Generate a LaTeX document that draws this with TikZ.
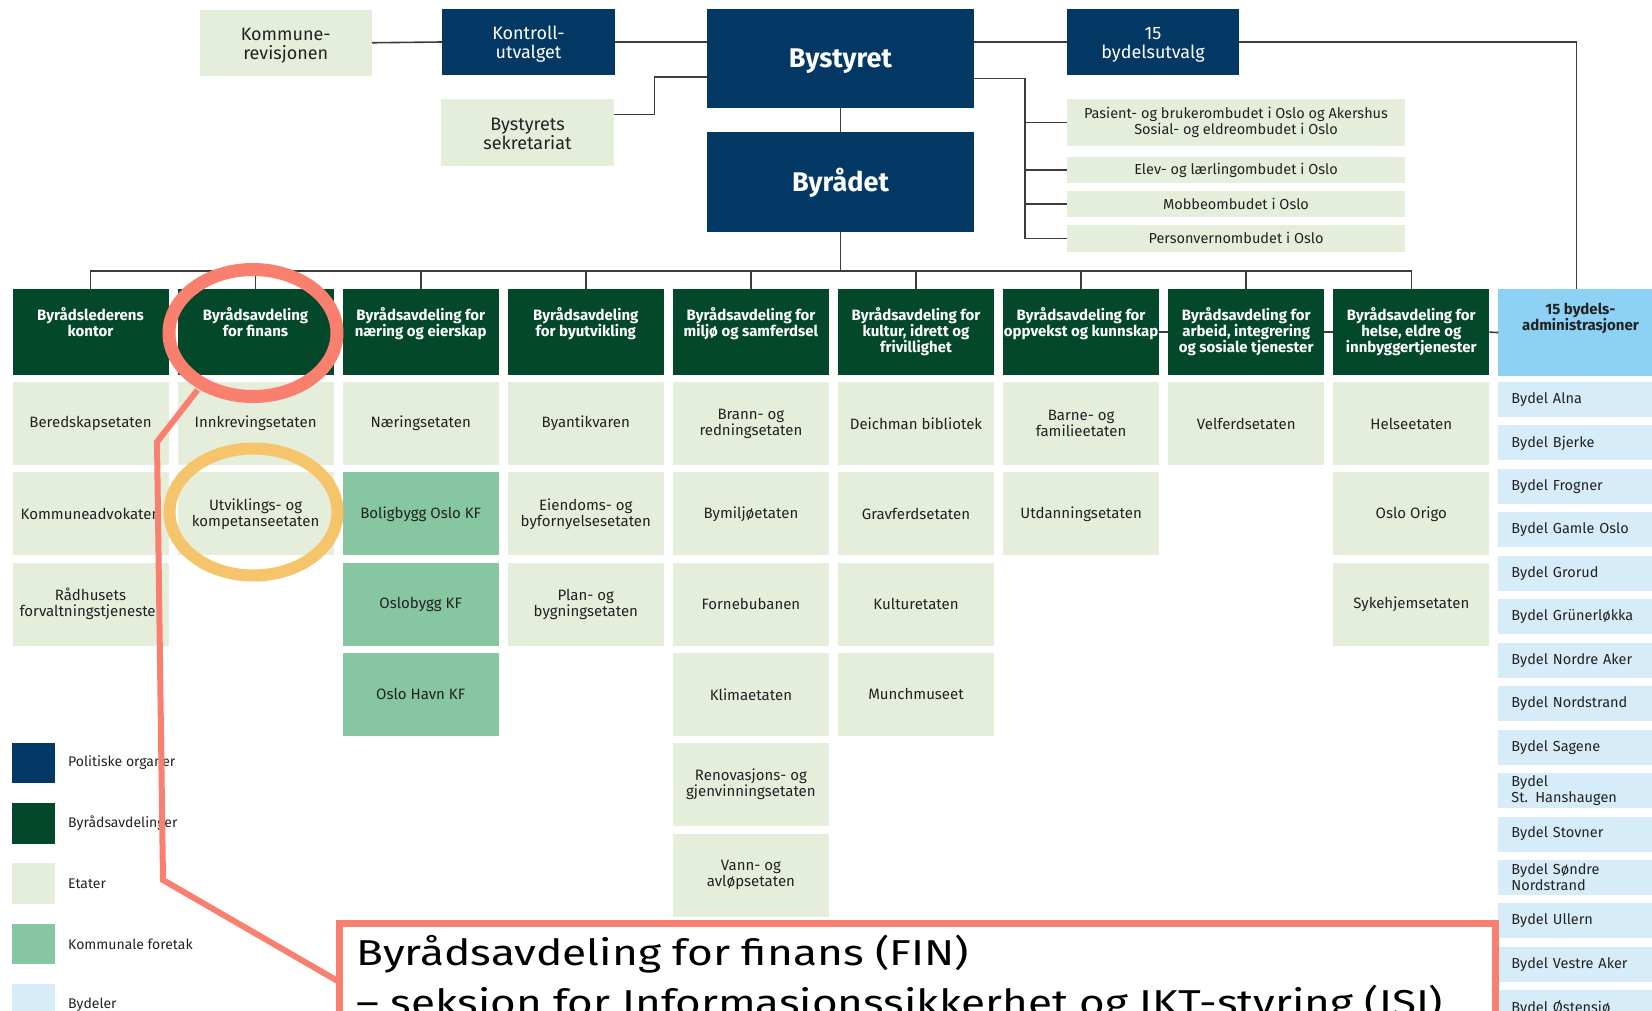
\documentclass[tikz,border=0pt]{standalone}
\usepackage{fontspec}
\setmainfont{Fira Sans}
\usepackage{graphicx}
\definecolor{polblue}{HTML}{023863}
\definecolor{hdrgreen}{HTML}{03482B}
\definecolor{etagreen}{HTML}{E4EEDB}
\definecolor{kfgreen}{HTML}{86C6A0}
\definecolor{bydblue}{HTML}{D6ECF9}
\definecolor{bydhdr}{HTML}{8DD2F5}
\definecolor{redmark}{HTML}{F9806F}
\definecolor{orangemark}{HTML}{F6C46B}
\definecolor{txt}{HTML}{222222}
\definecolor{conncol}{HTML}{3C3C3C}
\tikzset{
  box/.style={anchor=north west, inner sep=0pt, outer sep=0pt, align=center, text=txt},
  topfont/.style={font=\fontsize{18}{19}\selectfont},
  pol/.style={box, fill=polblue},
  light/.style={box, fill=etagreen},
  toptxt/.style={inner sep=0pt, align=center, text=txt, topfont},
  poltxt/.style={toptxt, text=white},
  bigtxt/.style={inner sep=0pt, text=white, font=\bfseries\fontsize{27}{30}\selectfont, text height=18.6pt, text depth=0pt},
  omb/.style={box, fill=etagreen, minimum width=338pt, font=\fontsize{14.5}{16.5}\selectfont},
  eta/.style={box, fill=etagreen, minimum width=156pt, minimum height=83pt, font=\fontsize{15}{16}\selectfont},
  kf/.style={eta, fill=kfgreen},
  hdrbox/.style={box, fill=hdrgreen, minimum width=156pt, minimum height=85.7pt},
  hdrtxt/.style={anchor=north, inner sep=0pt, align=center, text=white, font=\bfseries\fontsize{15}{16}\selectfont},
  bydel/.style={box, fill=bydblue, minimum height=35pt, text width=130pt, inner xsep=13pt, align=left, font=\fontsize{14.5}{16}\selectfont},
  conn/.style={draw=conncol, line width=1.6pt},
  lgbox/.style={anchor=north west, inner sep=0pt, outer sep=0pt, minimum width=42.5pt, minimum height=40.6pt},
  lgtxt/.style={anchor=west, inner sep=0pt, text=txt, font=\fontsize{14}{16}\selectfont},
  ring/.style={line width=13pt},
  captxt/.style={anchor=base west, inner sep=0pt, text=black, font=\fontsize{36}{50}\selectfont},
}
\newcommand\mkhdr[3]{\node[hdrbox] (h#1) at (#2,289.3) {};
  \node[hdrtxt] (ht#1) at ([yshift=-17.5pt]h#1.north) {#3};}
\begin{document}
\begin{tikzpicture}[x=1pt,y=-1pt]
\useasboundingbox (0,0) rectangle (1652,1010);
\clip (0,0) rectangle (1652,1010);
\fill[white] (0,0) rectangle (1652,1010);

% top political level
\node[light, minimum width=172.5pt, minimum height=65.5pt] (kr) at (199.5,10) {};
\node[toptxt] (krt) at ([yshift=-3pt]kr.center) {Kommune-\\revisjonen};
\node[pol, minimum width=173pt, minimum height=66pt] (ku) at (442,9) {};
\node[poltxt] (kut) at ([yshift=-2.5pt]ku.center) {Kontroll-\\utvalget};
\node[pol, minimum width=267pt, minimum height=99pt] (bst) at (707,9) {};
\node[bigtxt] (bstt) at (bst.center) {Bystyret};
\node[pol, minimum width=172pt, minimum height=66pt] (bu) at (1067,9) {};
\node[poltxt] (but) at ([yshift=-2.5pt]bu.center) {15\\bydelsutvalg};
\node[light, minimum width=173pt, minimum height=67pt] (bs) at (441,99) {};
\node[toptxt] (bst2) at ([yshift=-1.8pt]bs.center) {Bystyrets\\sekretariat};
\node[pol, minimum width=267pt, minimum height=100pt] (brd) at (707,132) {};
\node[bigtxt] (brdt) at (brd.center) {Byrådet};

\node[omb, minimum height=47pt] (o1) at (1067,99) {Pasient- og brukerombudet i Oslo og Akershus\\Sosial- og eldreombudet i Oslo};
\node[omb, minimum height=26pt] (o2) at (1067,157) {Elev- og lærlingombudet i Oslo};
\node[omb, minimum height=26.3pt] (o3) at (1067,190.7) {Mobbeombudet i Oslo};
\node[omb, minimum height=26.7pt] (o4) at (1067,225) {Personvernombudet i Oslo};

% department headers
\mkhdr{1}{12.5}{Byrådslederens\\kontor}
\mkhdr{2}{177.6}{Byrådsavdeling\\for finans}
\mkhdr{3}{342.7}{Byrådsavdeling for\\næring og eierskap}
\mkhdr{4}{507.8}{Byrådsavdeling\\for byutvikling}
\mkhdr{5}{672.9}{Byrådsavdeling for\\miljø og samferdsel}
\mkhdr{6}{838.0}{Byrådsavdeling for\\kultur, idrett og\\frivillighet}
\mkhdr{7}{1003.1}{Byrådsavdeling for\\oppvekst og kunnskap}
\mkhdr{8}{1168.2}{Byrådsavdeling for\\arbeid, integrering\\og sosiale tjenester}
\mkhdr{9}{1333.3}{Byrådsavdeling for\\helse, eldre og\\innbyggertjenester}
\node[box, fill=bydhdr, minimum width=156pt, minimum height=86.4pt] (bh) at (1498.4,289.3) {};
\node[hdrtxt, text=txt] (bht) at ([xshift=4pt,yshift=-13.5pt]bh.north) {15 bydels-\\administrasjoner};

% etater
\node[eta] (e11) at (12.5,382) {Beredskapsetaten};
\node[eta] (e12) at (12.5,472.3) {Kommuneadvokaten};
\node[eta] (e13) at (12.5,562.6) {Rådhusets\\forvaltningstjenester};
\node[eta] (e21) at (177.6,382) {Innkrevingsetaten};
\node[eta] (e22) at (177.6,472.3) {Utviklings- og\\kompetanseetaten};
\node[eta] (e31) at (342.7,382) {Næringsetaten};
\node[kf] (e32) at (342.7,472.3) {Boligbygg Oslo KF};
\node[kf] (e33) at (342.7,562.6) {Oslobygg KF};
\node[kf] (e34) at (342.7,652.9) {Oslo Havn KF};
\node[eta] (e41) at (507.8,382) {Byantikvaren};
\node[eta] (e42) at (507.8,472.3) {Eiendoms- og\\byfornyelsesetaten};
\node[eta] (e43) at (507.8,562.6) {Plan- og\\bygningsetaten};
\node[eta] (e51) at (672.9,382) {Brann- og\\redningsetaten};
\node[eta] (e52) at (672.9,472.3) {Bymiljøetaten};
\node[eta] (e53) at (672.9,562.6) {Fornebubanen};
\node[eta] (e54) at (672.9,652.9) {Klimaetaten};
\node[eta] (e55) at (672.9,743.2) {Renovasjons- og\\gjenvinningsetaten};
\node[eta] (e56) at (672.9,833.5) {Vann- og\\avløpsetaten};
\node[eta] (e61) at (838.0,382) {Deichman bibliotek};
\node[eta] (e62) at (838.0,472.3) {Gravferdsetaten};
\node[eta] (e63) at (838.0,562.6) {Kulturetaten};
\node[eta] (e64) at (838.0,652.9) {Munchmuseet};
\node[eta] (e71) at (1003.1,382) {Barne- og\\familieetaten};
\node[eta] (e72) at (1003.1,472.3) {Utdanningsetaten};
\node[eta] (e81) at (1168.2,382) {Velferdsetaten};
\node[eta] (e91) at (1333.3,382) {Helseetaten};
\node[eta] (e92) at (1333.3,472.3) {Oslo Origo};
\node[eta] (e93) at (1333.3,562.6) {Sykehjemsetaten};

% bydeler
\foreach \t [count=\i] in {Bydel Alna, Bydel Bjerke, Bydel Frogner, Bydel Gamle Oslo, Bydel Grorud, Bydel Grünerløkka, Bydel Nordre Aker, Bydel Nordstrand, Bydel Sagene, Bydel\\St. Hanshaugen, Bydel Stovner, Bydel Søndre\\Nordstrand, Bydel Ullern, Bydel Vestre Aker, Bydel Østensjø}
  \node[bydel] (b\i) at (1498.4,{382+43.45*(\i-1)}) {\t};

% connectors
\draw[conn] (kr.east) -- (ku.west);
\draw[conn] (ku.east) -- (ku.east -| bst.west);
\draw[conn] (bst.east |- bu.west) -- (bu.west);
\draw[conn] (bu.east) -| (bh.north);
\coordinate (k1) at (654.5,114.3);
\coordinate (k2) at (654.5,76.7);
\draw[conn] (bs.east |- k1) -- (k1) -- (k2) -- (k2 -| bst.west);
\draw[conn] (bst.south) -- (brd.north);
\coordinate (ob) at (1024.8,78.3);
\draw[conn] (bst.east |- ob) -- (ob) -- (ob |- o4.west) -- (o4.west);
\foreach \o in {o1,o2,o3} \draw[conn] (ob |- \o.west) -- (\o.west);
\coordinate (bus) at (90.5,270.7);
\draw[conn] (h1.north) -- (h1.north |- bus) -- (h9.north |- bus) -- (h9.north);
\draw[conn] (brd.south) -- (brd.south |- bus);
\foreach \i in {2,...,8} \draw[conn] (h\i.north) -- (h\i.north |- bus);
\draw[conn] (h7.east) -- (h8.west);
\draw[conn] (h8.east) -- (h9.west);
\draw[conn] (h9.east) -- (bh.west);

% legend
\node[lgbox, fill=polblue] (l1) at (12,742.7) {};
\node[lgbox, fill=hdrgreen] (l2) at (12,803) {};
\node[lgbox, fill=etagreen] (l3) at (12,863.3) {};
\node[lgbox, fill=kfgreen] (l4) at (12,923.6) {};
\node[lgbox, fill=bydblue] (l5) at (12,984) {};
\node[lgtxt] (lt1) at ([xshift=13.5pt]l1.east) {Politiske organer};
\node[lgtxt] (lt2) at ([xshift=13.5pt]l2.east) {Byrådsavdelinger};
\node[lgtxt] (lt3) at ([xshift=13.5pt]l3.east) {Etater};
\node[lgtxt] (lt4) at ([xshift=13.5pt]l4.east) {Kommunale foretak};
\node[lgtxt] (lt5) at ([xshift=13.5pt]l5.east) {Bydeler};

% highlight marks
\draw[draw=redmark, ring] (253,333) ellipse [x radius=84pt, y radius=63.5pt];
\draw[draw=orangemark, ring, line width=12pt] (253.5,512) ellipse [x radius=84pt, y radius=63.5pt];

\node[draw=redmark, line width=7pt, fill=white, anchor=north west, inner sep=0pt, outer sep=0pt, minimum width=1156pt, minimum height=200pt] (cap) at (339.5,923.5) {};
\coordinate (r1) at (197.5,390);
\coordinate (r2) at (157,442);
\coordinate (r3) at (163,880);
\coordinate (r4) at (cap.west |- 0,982);
\draw[draw=redmark, line width=6pt, line join=miter] (r1) -- (r2) -- (r3) -- (r4);
\node[captxt] (cap1) at (356,965) {\resizebox{613pt}{\height}{Byrådsavdeling for finans (FIN)}};
\node[captxt] (cap2) at (356,1015) {\resizebox{1087pt}{\height}{– seksjon for Informasjonssikkerhet og IKT-styring (ISI)}};
\end{tikzpicture}
\end{document}
